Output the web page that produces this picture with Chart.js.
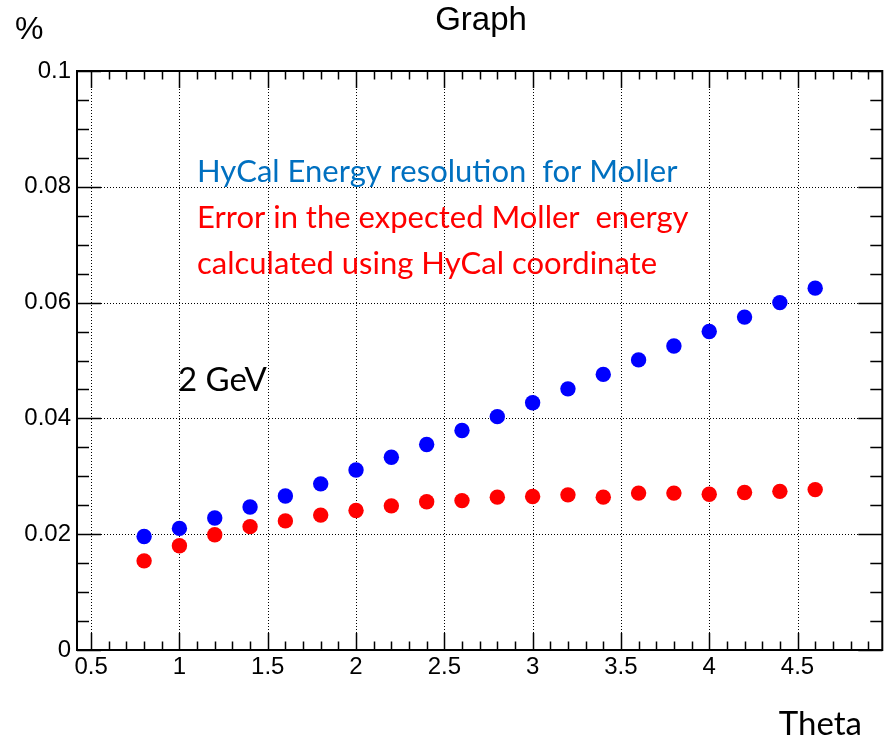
<!DOCTYPE html>
<html>
<head>
<meta charset="utf-8">
<script src="https://cdn.jsdelivr.net/npm/chart.js@4/dist/chart.umd.min.js"></script>
<style>
  html, body { margin: 0; padding: 0; background: #fff; }
  #wrap { width: 890px; height: 737px; position: relative; }
</style>
</head>
<body>
<div id="wrap"><canvas id="canvas"></canvas></div>
<script>
// theta values (x)
var theta = [0.8, 1.0, 1.2, 1.4, 1.6, 1.8, 2.0, 2.2, 2.4, 2.6, 2.8, 3.0, 3.2, 3.4, 3.6, 3.8, 4.0, 4.2, 4.4, 4.6];
// HyCal energy resolution for Moller (blue)
var resolution = [0.0196, 0.0210, 0.0228, 0.0247, 0.0266, 0.0287, 0.0311, 0.0333, 0.0355, 0.0379,
                  0.0403, 0.0427, 0.0451, 0.0476, 0.0501, 0.0525, 0.0550, 0.0575, 0.0600, 0.0625];
// error in expected Moller energy (red)
var energyError = [0.0154, 0.0180, 0.0199, 0.0213, 0.0223, 0.0233, 0.0241, 0.0249, 0.0256, 0.0258,
                   0.0264, 0.0265, 0.0268, 0.0264, 0.0271, 0.0271, 0.0269, 0.0272, 0.0274, 0.0277];

var xTicks = [0.5, 1, 1.5, 2, 2.5, 3, 3.5, 4, 4.5];
var yTicks = [0, 0.02, 0.04, 0.06, 0.08, 0.1];
var xRange = [0.42, 4.98];
var yRange = [0, 0.1];

function toPoints(xs, ys) {
  var pts = [];
  for (var i = 0; i < xs.length; i++) {
    pts.push({x: xs[i], y: ys[i]});
  }
  return pts;
}

// dotted grid, frame and root-style ticks
var frame = {
  id: 'frame',
  beforeDatasetsDraw: function(chart) {
    var ctx = chart.ctx, a = chart.chartArea;
    var xs = chart.scales.x, ys = chart.scales.y;
    ctx.save();
    ctx.strokeStyle = '#000';
    ctx.lineWidth = 1;
    ctx.setLineDash([1, 2]);
    xTicks.forEach(function(v) {
      var px = Math.round(xs.getPixelForValue(v)) + 0.5;
      ctx.beginPath(); ctx.moveTo(px, a.top); ctx.lineTo(px, a.bottom); ctx.stroke();
    });
    yTicks.forEach(function(v) {
      var py = Math.round(ys.getPixelForValue(v)) + 0.5;
      ctx.beginPath(); ctx.moveTo(a.left, py); ctx.lineTo(a.right, py); ctx.stroke();
    });
    ctx.restore();
  },
  afterDatasetsDraw: function(chart) {
    var ctx = chart.ctx, a = chart.chartArea;
    var xs = chart.scales.x, ys = chart.scales.y;
    ctx.save();
    ctx.strokeStyle = '#000';
    ctx.lineWidth = 1.5;

    // x ticks, bottom and top
    for (var v = 0.5; v < xRange[1]; v += 0.1) {
      v = Math.round(v * 10) / 10;
      var major = Math.abs(v * 2 - Math.round(v * 2)) < 1e-6;
      var len = major ? 17 : 8.5;
      var px = Math.round(xs.getPixelForValue(v)) + 0.5;
      ctx.beginPath();
      ctx.moveTo(px, a.bottom); ctx.lineTo(px, a.bottom - len);
      ctx.moveTo(px, a.top); ctx.lineTo(px, a.top + len);
      ctx.stroke();
    }
    // y ticks, left and right
    for (var i = 0; i <= 20; i++) {
      var yv = i * 0.005;
      var ylen = (i % 4 === 0) ? 24 : 12;
      var py = Math.round(ys.getPixelForValue(yv)) + 0.5;
      ctx.beginPath();
      ctx.moveTo(a.left, py); ctx.lineTo(a.left + ylen, py);
      ctx.moveTo(a.right, py); ctx.lineTo(a.right - ylen, py);
      ctx.stroke();
    }

    ctx.lineWidth = 2;
    ctx.strokeRect(a.left, a.top, a.right - a.left, a.bottom - a.top);
    ctx.restore();
  },
  afterDraw: function(chart) {
    var ctx = chart.ctx;
    ctx.save();
    ctx.textBaseline = 'alphabetic';

    ctx.fillStyle = '#000';
    ctx.font = '33px "Liberation Sans", Arial, sans-serif';
    ctx.textAlign = 'center';
    ctx.fillText('Graph', 481, 30);
    ctx.textAlign = 'left';
    ctx.font = '32px "Liberation Sans", Arial, sans-serif';
    ctx.fillText('%', 15, 39);

    ctx.font = '33px Lato, sans-serif';
    ctx.fillText('2 GeV', 178, 391);
    ctx.textAlign = 'right';
    ctx.fillText('Theta', 862, 735);

    ctx.textAlign = 'left';
    ctx.font = '31px Lato, sans-serif';
    ctx.fillStyle = '#0070c0';
    ctx.fillText('HyCal Energy resolution  for Moller', 197, 182);
    ctx.fillStyle = '#ff0000';
    ctx.fillText('Error in the expected Moller  energy', 197, 228);
    ctx.fillText('calculated using HyCal coordinate', 197, 274);
    ctx.restore();
  }
};

var tickFont = {family: '"Liberation Sans", Arial, sans-serif', size: 24};

var config = {
  type: 'scatter',
  data: {
    datasets: [
      {
        label: 'HyCal Energy resolution for Moller',
        data: toPoints(theta, resolution),
        backgroundColor: '#0000ff',
        borderWidth: 0,
        pointRadius: 7.7,
        pointHoverRadius: 7.7
      },
      {
        label: 'Error in the expected Moller energy',
        data: toPoints(theta, energyError),
        backgroundColor: '#ff0000',
        borderWidth: 0,
        pointRadius: 7.7,
        pointHoverRadius: 7.7
      }
    ]
  },
  options: {
    responsive: true,
    maintainAspectRatio: false,
    animation: false,
    events: [],
    layout: { padding: {top: 71, right: 7, left: 0, bottom: 0} },
    plugins: {
      legend: { display: false },
      tooltip: { enabled: false }
    },
    scales: {
      x: {
        type: 'linear',
        min: xRange[0],
        max: xRange[1],
        afterBuildTicks: function(scale) {
          scale.ticks = xTicks.map(function(v) { return {value: v}; });
        },
        afterFit: function(scale) { scale.height = 87; },
        grid: { display: false, drawTicks: false },
        border: { display: false },
        ticks: {
          color: '#000',
          font: tickFont,
          padding: 3,
          maxRotation: 0,
          autoSkip: false,
          callback: function(v) { return String(v); }
        }
      },
      y: {
        type: 'linear',
        min: yRange[0],
        max: yRange[1],
        afterBuildTicks: function(scale) {
          scale.ticks = yTicks.map(function(v) { return {value: v}; });
        },
        afterFit: function(scale) { scale.width = 77; },
        grid: { display: false, drawTicks: false },
        border: { display: false },
        ticks: {
          color: '#000',
          font: tickFont,
          padding: 6,
          autoSkip: false,
          callback: function(v) { return String(v); }
        }
      }
    }
  },
  plugins: [frame]
};

var chart = new Chart(document.getElementById('canvas'), config);
</script>
</body>
</html>
